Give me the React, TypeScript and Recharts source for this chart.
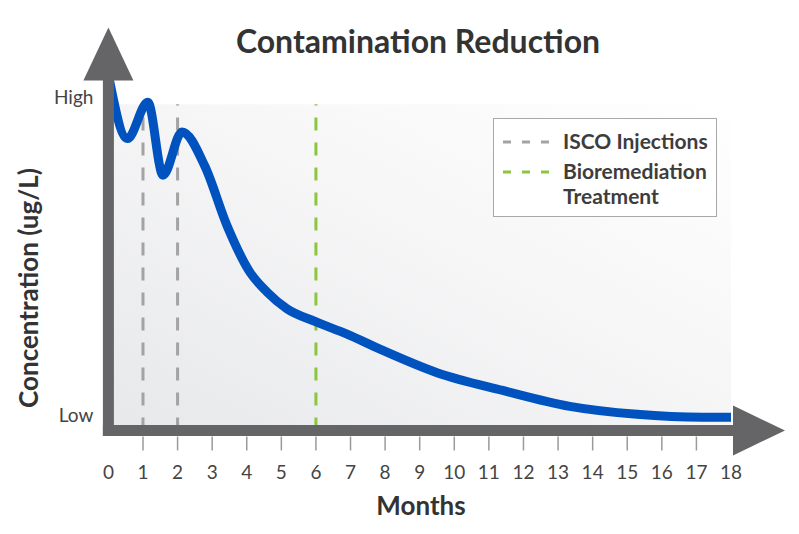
import React from "react";
import {
  ComposedChart,
  Line,
  XAxis,
  YAxis,
  ReferenceLine,
  ReferenceArea,
  ReferenceDot,
} from "recharts";

// months (x) and relative concentration (0 = Low, 100 = High)
const months = [0, 0.55, 1.14, 1.58, 2.13, 2.79, 3.43, 4.09, 4.58, 5.16, 5.97, 6.9, 7.85, 9.5, 11.4, 13.34, 15.28, 17.18, 18];
const concentration = [107, 87, 98.4, 75.5, 89.1, 78.3, 59.6, 45, 38.8, 33.5, 29.5, 25.5, 20.8, 13.4, 7.8, 2.8, 0.3, -0.6, -0.6];
const monthTicks = [0, 1, 2, 3, 4, 5, 6, 7, 8, 9, 10, 11, 12, 13, 14, 15, 16, 17, 18];
const levelTicks = [0, 100];
const levelLabels = ["Low", "High"];
const iscoMonths = [1, 2];
const bioMonths = [6];

const data = months.map((m, i) => ({ month: m, value: concentration[i] }));

const AXIS = "#656567";
const BLUE = "#0052bf";
const GRAY_DASH = "#a3a3a3";
const GREEN_DASH = "#8cc63f";
const Y_MIN = -4.8;
const Y_MAX = 105.6;

const MonthTick = (props: any) => {
  const { x, y, payload } = props;
  const v = payload.value;
  return (
    <g>
      {v > 0 && v < 18 && (
        <line x1={x} x2={x} y1={y + 6} y2={y + 20} stroke="#9a9a9a" strokeWidth={1.5} />
      )}
      <text x={x} y={y + 48} textAnchor="middle" fontSize={19} fill="#444">
        {v}
      </text>
    </g>
  );
};

const LevelTick = (props: any) => {
  const { x, y, payload } = props;
  return (
    <text x={x} y={y} dy={7} textAnchor="end" fontSize={19} fill="#444">
      {levelLabels[levelTicks.indexOf(payload.value)]}
    </text>
  );
};

const RightArrow = (props: any) => {
  const { cx, cy } = props;
  return <polygon points={`${cx + 2},${cy - 25} ${cx + 54},${cy} ${cx + 2},${cy + 25}`} fill={AXIS} />;
};

const UpArrow = (props: any) => {
  const { cx, cy } = props;
  return <polygon points={`${cx - 25},${cy + 1} ${cx + 25},${cy + 1} ${cx},${cy - 52}`} fill={AXIS} />;
};

export default function App() {
  return (
    <div style={{ position: "absolute", left: 0, top: 0, width: 799, height: 534, background: "#fff", fontFamily: "Lato, sans-serif" }}>
      <ComposedChart
        width={799}
        height={534}
        data={data}
        margin={{ top: 75, right: 68, bottom: 43.5, left: 48.4 }}
      >
        <defs>
          <linearGradient id="bgGrad" x1="0" y1="1" x2="1" y2="0">
            <stop offset="0%" stopColor="#e7e8ea" />
            <stop offset="55%" stopColor="#f6f6f7" />
            <stop offset="100%" stopColor="#ffffff" />
          </linearGradient>
        </defs>
        <ReferenceArea x1={0} x2={18} y1={Y_MIN} y2={97.8} fill="url(#bgGrad)" fillOpacity={1} stroke="none" ifOverflow="visible" />
        {iscoMonths.map((m) => (
          <ReferenceLine key={"i" + m} segment={[{ x: m, y: Y_MIN }, { x: m, y: 97.8 }]} stroke={GRAY_DASH} strokeWidth={3} strokeDasharray="13 12" />
        ))}
        {bioMonths.map((m) => (
          <ReferenceLine key={"b" + m} segment={[{ x: m, y: Y_MIN }, { x: m, y: 97.8 }]} stroke={GREEN_DASH} strokeWidth={3} strokeDasharray="13 12" />
        ))}
        <Line
          type="monotone"
          dataKey="value"
          stroke={BLUE}
          strokeWidth={9}
          dot={false}
          activeDot={false}
          isAnimationActive={false}
        />
        <XAxis
          dataKey="month"
          type="number"
          domain={[0, 18]}
          ticks={monthTicks}
          interval={0}
          height={60}
          tickSize={0}
          tickMargin={0}
          tickLine={false}
          axisLine={{ stroke: AXIS, strokeWidth: 11, strokeLinecap: "square" }}
          tick={<MonthTick />}
        />
        <YAxis
          type="number"
          domain={[Y_MIN, Y_MAX]}
          ticks={levelTicks}
          width={60}
          tickSize={0}
          tickMargin={15}
          tickLine={false}
          axisLine={{ stroke: AXIS, strokeWidth: 11, strokeLinecap: "square" }}
          tick={<LevelTick />}
        />
        <ReferenceDot x={18} y={Y_MIN} r={1} shape={<RightArrow />} ifOverflow="visible" />
        <ReferenceDot x={0} y={Y_MAX} r={1} shape={<UpArrow />} ifOverflow="visible" />
      </ComposedChart>
      <svg width={799} height={534} style={{ position: "absolute", left: 0, top: 0, pointerEvents: "none" }}>
        <text x={418} y={53} textAnchor="middle" fontSize={32} fontWeight={700} fill="#333">
          Contamination Reduction
        </text>
        <text x={421} y={515} textAnchor="middle" fontSize={26} fontWeight={700} fill="#333">
          Months
        </text>
        <text
          x={0}
          y={0}
          transform="translate(38 288) rotate(-90)"
          textAnchor="middle"
          fontSize={26}
          fontWeight={700}
          fill="#333"
        >
          Concentration (ug/L)
        </text>
        <rect x={493.5} y={118.5} width={223} height={98} fill="#fff" fillOpacity={0.9} stroke="#a8a8a8" />
        <line x1={503} x2={549} y1={142} y2={142} stroke={GRAY_DASH} strokeWidth={3} strokeDasharray="8 11" />
        <text x={563} y={149} fontSize={21} fontWeight={700} fill="#3d3d3d">ISCO Injections</text>
        <line x1={503} x2={549} y1={172} y2={172} stroke={GREEN_DASH} strokeWidth={3} strokeDasharray="8 11" />
        <text x={563} y={179} fontSize={21} fontWeight={700} fill="#3d3d3d">Bioremediation</text>
        <text x={563} y={204} fontSize={21} fontWeight={700} fill="#3d3d3d">Treatment</text>
      </svg>
    </div>
  );
}
